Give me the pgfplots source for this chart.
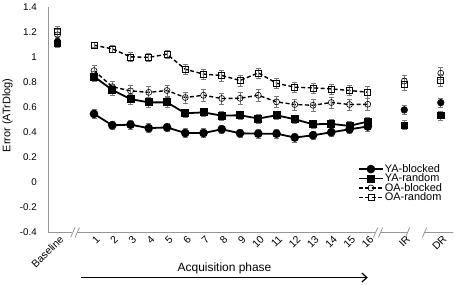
\documentclass[border=0pt]{standalone}
\usepackage{pgfplots}
\pgfplotsset{compat=1.18}
\usepackage{pgfplotstable}
\usepackage{fontspec}
\setmainfont{Liberation Sans}
\usetikzlibrary{arrows.meta}
\definecolor{axgray}{RGB}{150,150,150}
\definecolor{errgray}{RGB}{120,120,120}

% sessions 1-16
\pgfplotstableread{
x y e
1 0.548 0.035
2 0.457 0.035
3 0.462 0.035
4 0.434 0.035
5 0.440 0.035
6 0.395 0.035
7 0.395 0.035
8 0.425 0.035
9 0.393 0.035
10 0.390 0.035
11 0.390 0.035
12 0.359 0.035
13 0.377 0.035
14 0.401 0.035
15 0.425 0.035
16 0.447 0.035
}\yab
\pgfplotstableread{
x y e
1 0.846 0.04
2 0.740 0.04
3 0.666 0.04
4 0.640 0.04
5 0.640 0.04
6 0.553 0.035
7 0.560 0.035
8 0.534 0.035
9 0.537 0.035
10 0.511 0.035
11 0.537 0.035
12 0.505 0.035
13 0.465 0.035
14 0.468 0.035
15 0.452 0.035
16 0.487 0.035
}\yar
\pgfplotstableread{
x y e
1 0.894 0.04
2 0.765 0.045
3 0.732 0.045
4 0.720 0.045
5 0.735 0.045
6 0.679 0.045
7 0.697 0.045
8 0.671 0.045
9 0.673 0.045
10 0.697 0.045
11 0.644 0.045
12 0.623 0.045
13 0.617 0.045
14 0.639 0.045
15 0.623 0.045
16 0.625 0.045
}\oab
\pgfplotstableread{
x y e
1 1.097 0.02
2 1.068 0.03
3 1.004 0.035
4 1.000 0.03
5 1.025 0.03
6 0.905 0.04
7 0.866 0.04
8 0.855 0.045
9 0.815 0.045
10 0.876 0.04
11 0.793 0.04
12 0.761 0.04
13 0.756 0.04
14 0.748 0.04
15 0.735 0.04
16 0.721 0.045
}\oar
% Baseline (-1), IR (18), DR (20)
\pgfplotstableread{
x y e
-1 1.125 0.03
18 0.580 0.035
20 0.638 0.035
}\yabx
\pgfplotstableread{
x y e
-1 1.110 0.03
18 0.460 0.035
20 0.535 0.035
}\yarx
\pgfplotstableread{
x y e
-1 1.180 0.04
18 0.810 0.05
20 0.873 0.05
}\oabx
\pgfplotstableread{
x y e
-1 1.210 0.04
18 0.785 0.05
20 0.815 0.05
}\oarx

\begin{document}
\begin{tikzpicture}
\path[use as bounding box] (-48.3bp,-52.5bp) rectangle (405.7bp,232.5bp);
\begin{axis}[
  scale only axis, width=404.7bp, height=225.2bp,
  at={(0,0)}, anchor=south west,
  xmin=-1.505, xmax=20.67, ymin=-0.4, ymax=1.4,
  axis lines*=left,
  x axis line style={draw=none},
  y axis line style={draw=axgray, line width=0.8bp},
  major tick length=0pt,
  clip=false,
  xtick={-1,1,2,3,4,5,6,7,8,9,10,11,12,13,14,15,16,18,20},
  xticklabels={Baseline,1,2,3,4,5,6,7,8,9,10,11,12,13,14,15,16,IR,DR},
  ytick={-0.4,-0.2,0,0.2,0.4,0.6,0.8,1,1.2,1.4},
  /pgf/number format/assume math mode=true,
  x tick label style={rotate=45, anchor=north east, font=\fontsize{10.5}{11}\selectfont, inner sep=0.5bp, yshift=-2bp},
  y tick label style={font=\fontsize{9.8}{10}\selectfont, anchor=east, xshift=-8bp},
  ylabel={Error (ATrDlog)},
  ylabel style={font=\fontsize{11}{12}\selectfont, at={(axis description cs:-0.101,0.52)}, anchor=center},
  legend style={at={(axis cs:20.3,0.17)}, anchor=north east, draw=none, fill=none,
    font=\fontsize{11}{11}\selectfont, row sep=-2bp, nodes={inner sep=1bp}},
  legend cell align=left,
  legend image code/.code={\draw[mark repeat=2,mark phase=2,#1] plot coordinates {(0bp,0bp)(12bp,0bp)(24bp,0bp)};},
  error bars/y dir=both, error bars/y explicit,
  error bars/error bar style={errgray, line width=0.7bp, solid},
  error bars/error mark options={errgray, rotate=90, mark size=2.5bp, line width=0.7bp, solid},
]
\addplot[black, line width=1.8bp, mark=*, mark size=3.4bp, mark options={solid}] table[x=x,y=y,y error=e] {\yab};
\addlegendentry{YA-blocked}
\addplot[black, line width=1.8bp, mark=square*, mark size=3.1bp, mark options={solid}] table[x=x,y=y,y error=e] {\yar};
\addlegendentry{YA-random}
\addplot[black, line width=1.4bp, dash pattern=on 4bp off 2.5bp, mark=o, mark size=3bp, mark options={solid, line width=0.6bp}] table[x=x,y=y,y error=e] {\oab};
\addlegendentry{OA-blocked}
\addplot[black, line width=1.4bp, dash pattern=on 4bp off 2.5bp, mark=square, mark size=3bp, mark options={solid, line width=0.6bp}] table[x=x,y=y,y error=e] {\oar};
\addlegendentry{OA-random}

\addplot[only marks, black, mark=o, mark size=3bp, mark options={solid, line width=0.6bp}, forget plot] table[x=x,y=y,y error=e] {\oabx};
\addplot[only marks, black, mark=square, mark size=3bp, mark options={solid, line width=0.6bp}, forget plot] table[x=x,y=y,y error=e] {\oarx};
\addplot[only marks, black, mark=square*, mark size=3.1bp, forget plot] table[x=x,y=y,y error=e] {\yarx};
\addplot[only marks, black, mark=*, mark size=3.4bp, forget plot] table[x=x,y=y,y error=e] {\yabx};

% broken x axis
\draw[axgray, line width=0.8bp] (axis cs:-1.505,-0.4) -- (axis cs:-0.206,-0.4);
\draw[axgray, line width=0.8bp] (axis cs:-0.282,-0.44) -- (axis cs:-0.042,-0.36);
\draw[axgray, line width=0.8bp] (axis cs:-0.041,-0.44) -- (axis cs:0.199,-0.36);
\draw[axgray, line width=0.8bp] (axis cs:0.068,-0.4) -- (axis cs:16.4,-0.4);
\draw[axgray, line width=0.8bp] (axis cs:16.31,-0.44) -- (axis cs:16.55,-0.36);
\draw[axgray, line width=0.8bp] (axis cs:16.58,-0.44) -- (axis cs:16.82,-0.36);
\draw[axgray, line width=0.8bp] (axis cs:16.70,-0.4) -- (axis cs:18.18,-0.4);
\draw[axgray, line width=0.8bp] (axis cs:18.06,-0.44) -- (axis cs:18.30,-0.36);
\draw[axgray, line width=0.8bp] (axis cs:18.99,-0.44) -- (axis cs:19.23,-0.36);
\draw[axgray, line width=0.8bp] (axis cs:19.11,-0.4) -- (axis cs:20.67,-0.4);

\node[font=\fontsize{12}{13}\selectfont] at (axis cs:8.15,-0.684) {Acquisition phase};
\draw[-{Straight Barb[length=5bp,width=9bp]}, line width=1.2bp] (axis cs:0.29,-0.76) -- (axis cs:16.0,-0.76);
\end{axis}
\end{tikzpicture}
\end{document}
